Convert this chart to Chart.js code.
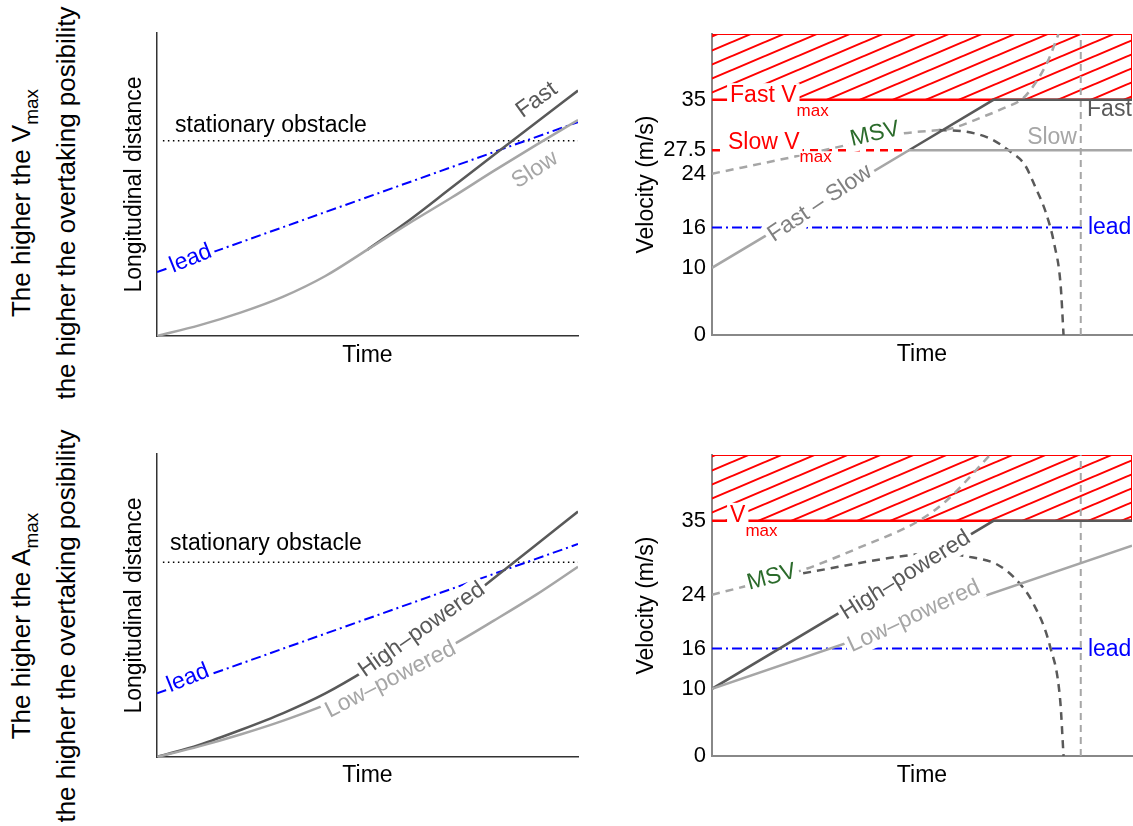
<!DOCTYPE html>
<html>
<head>
<meta charset="utf-8">
<script src="https://cdn.jsdelivr.net/npm/chart.js@4.4.1/dist/chart.umd.min.js"></script>
<style>
  html, body { margin: 0; padding: 0; background: #fff; }
  #page { position: relative; width: 1133px; height: 826px; overflow: hidden; font-family: "Liberation Sans", Arial, sans-serif; }
  canvas { position: absolute; }
  .rowLabel { position: absolute; left: 44px; transform: translate(-50%, -50%) rotate(-90deg); white-space: nowrap; text-align: center; font-size: 26px; line-height: 45px; color: #000; }
  .rowLabel sub { font-size: 19px; vertical-align: -8px; line-height: 0; }
</style>
</head>
<body>
<div id="page">
  <div class="rowLabel" style="top:203px">
    <div>The higher the V<sub>max</sub></div>
    <div>the higher the overtaking posibility</div>
  </div>
  <div class="rowLabel" style="top:626px">
    <div>The higher the A<sub>max</sub></div>
    <div>the higher the overtaking posibility</div>
  </div>
  <canvas id="distTop" width="500" height="380" style="left:100px;top:0px"></canvas>
  <canvas id="velTop" width="533" height="380" style="left:600px;top:0px"></canvas>
  <canvas id="distBottom" width="500" height="380" style="left:100px;top:420px"></canvas>
  <canvas id="velBottom" width="533" height="380" style="left:600px;top:420px"></canvas>
</div>
<script>
// ---- distance panels (time axis 0..10, distance 0..10, no numbers on axes)
const distTime = [0, 1, 2, 3, 4, 5, 6, 7, 8, 9, 10];
const slowDist = [0, 0.35, 0.78, 1.3, 1.98, 2.85, 3.73, 4.57, 5.45, 6.3, 7.13];
const fastTime = [5, 6, 7, 8, 9, 10];
const fastDist = [2.85, 3.83, 4.9, 5.97, 7.04, 8.1];
const lowDist = [0, 0.35, 0.75, 1.2, 1.72, 2.3, 2.95, 3.68, 4.5, 5.35, 6.28];
const highDist = [0, 0.4, 0.9, 1.45, 2.1, 2.9, 3.8, 4.8, 5.9, 7.0, 8.1];
const leadTime = [0, 10];
const leadDistTop = [2.11, 7.06];
const leadDistBottom = [2.1, 7.03];
const obstacleTime = [0.14, 10];
const obstacleDistTop = [6.44, 6.44];
const obstacleDistBottom = [6.43, 6.43];

// ---- velocity panels (m/s)
const velTicksTop = [0, 10, 16, 24, 27.5, 35];
const velTicksBottom = [0, 10, 16, 24, 35];
const slowVelTime = [0, 4.69, 10];
const slowVel = [10, 27.5, 27.5];
const fastVelTime = [4.69, 6.7, 10];
const fastVel = [27.5, 35, 35];
const msvTimeTop = [0, 2, 3.9, 4.55, 5.2, 5.67, 6.5, 7, 7.4, 7.7, 8, 8.25];
const msvVelTop = [24, 26.6, 29.2, 30, 30.4, 30.7, 32.6, 33.9, 35.2, 37.5, 40.8, 44.8];
const brakeTimeTop = [5.4, 6.0, 6.6, 7.1, 7.45, 7.7, 7.95, 8.15, 8.3, 8.37];
const brakeVelTop = [30.5, 30.3, 29.3, 27.3, 25.3, 22.0, 18.2, 13.5, 7.5, 0];
const highVelTime = [0, 6.7, 10];
const highVel = [10, 35, 35];
const lowVelTime = [0, 10];
const lowVel = [10, 31.3];
const msvTimeBottom = [0, 0.75, 2.17, 3.5, 4.95, 5.6, 6.62];
const msvVelBottom = [24, 25.2, 27.7, 31.0, 35.1, 38.1, 44.8];
const brakeTimeBottom = [2.17, 4.6, 5.4, 6.07, 6.79, 7.25, 7.65, 8.05, 8.29, 8.37];
const brakeVelBottom = [27.2, 29.8, 30.2, 29.7, 28.5, 26.2, 22.7, 16.3, 8.3, 0];
const leadVelTime = [0, 8.85];
const leadVel = [16, 16];
const slowVmaxTime = [0, 4.69];
const slowVmax = [27.5, 27.5];
const vmaxTime = [0, 10];
const vmaxVel = [35, 35];
const zoneTopVel = [44.8, 44.8];
const stopTime = [8.78, 8.78];
const stopVel = [0, 44.8];

const FONT = '"Liberation Sans", Arial, Helvetica, sans-serif';
const DARK = '#595959', LIGHT = '#a6a6a6', BLUE = '#0000ff', RED = '#ff0000', GREEN = '#2b6b2b';

function pts(xs, ys) {
  return xs.map((x, i) => ({x: x, y: ys[i]}));
}

function line(data, color, extra) {
  return Object.assign({data: data, borderColor: color, borderWidth: 2.5, pointRadius: 0, fill: false, tension: 0}, extra || {});
}

// red hatch for the forbidden zone above Vmax
function hatch() {
  const c = document.createElement('canvas');
  c.width = 33; c.height = 14;
  const g = c.getContext('2d');
  g.strokeStyle = RED;
  g.lineWidth = 2;
  g.beginPath();
  g.moveTo(0, 14); g.lineTo(33, 0);
  g.moveTo(-33, 14); g.lineTo(33, -14);
  g.moveTo(0, 28); g.lineTo(66, 0);
  g.stroke();
  return g.createPattern(c, 'repeat');
}

// text put on the curves, with a white box that cuts the line under it
function labelPlugin(items) {
  return {
    id: 'curveLabels',
    afterDatasetsDraw(chart) {
      const ctx = chart.ctx, xs = chart.scales.x, ys = chart.scales.y;
      items.forEach(it => {
        const size = 23, subSize = 17;
        ctx.save();
        ctx.translate(xs.getPixelForValue(it.x), ys.getPixelForValue(it.y));
        ctx.rotate((it.angle || 0) * Math.PI / 180);
        ctx.font = size + 'px ' + FONT;
        const w = ctx.measureText(it.text).width;
        let sw = 0;
        if (it.sub) {
          ctx.font = subSize + 'px ' + FONT;
          sw = ctx.measureText(it.sub).width;
        }
        const total = w + sw;
        const x0 = it.align === 'left' ? 0 : it.align === 'right' ? -total : -total / 2;
        const subBase = size * 0.88;
        if (it.bg) {
          ctx.fillStyle = '#fff';
          ctx.fillRect(x0 - 3, -size * 0.55, w + 6, size * 1.1);
          if (it.sub) ctx.fillRect(x0 + w, subBase - subSize * 0.65, sw + 4, subSize * 0.85);
        }
        ctx.fillStyle = it.color;
        ctx.textAlign = 'left';
        ctx.textBaseline = 'middle';
        ctx.font = size + 'px ' + FONT;
        ctx.fillText(it.text, x0, 0);
        if (it.sub) {
          ctx.font = subSize + 'px ' + FONT;
          ctx.textBaseline = 'alphabetic';
          ctx.fillText(it.sub, x0 + w, subBase);
        }
        ctx.restore();
      });
    }
  };
}

function buildChart(id, datasets, items, frame) {
  const yScale = {
    type: 'linear', min: 0, max: frame.yMax,
    grid: {display: false, drawTicks: false},
    border: {color: frame.axis, width: frame.axisWidth},
    ticks: {display: false},
    title: {display: true, text: frame.yTitle, color: '#000', font: {family: FONT, size: 23}, padding: {top: frame.yTitlePad, bottom: 0}},
    afterFit: s => { s.width = frame.yWidth; }
  };
  if (frame.ticks) {
    yScale.ticks = {display: true, autoSkip: false, padding: 6, color: '#000', font: {family: FONT, size: 22}, callback: v => String(v)};
    yScale.afterBuildTicks = s => { s.ticks = frame.ticks.map(v => ({value: v})); };
  }
  return new Chart(document.getElementById(id), {
    type: 'line',
    data: {datasets: datasets},
    options: {
      responsive: false,
      animation: false,
      devicePixelRatio: 1,
      layout: {padding: {left: 0, top: frame.top, right: frame.right, bottom: 0}},
      plugins: {legend: {display: false}, tooltip: {enabled: false}},
      scales: {
        x: {
          type: 'linear', min: 0, max: 10,
          grid: {display: false, drawTicks: false},
          border: {color: frame.axis, width: frame.axisWidth},
          ticks: {display: false},
          title: {display: true, text: 'Time', color: '#000', font: {family: FONT, size: 23}, padding: {top: 0, bottom: frame.xTitlePad}},
          afterFit: s => { s.height = frame.xHeight; }
        },
        y: yScale
      }
    },
    plugins: [labelPlugin(items)]
  });
}

const leadStyle = {borderWidth: 2, borderDash: [10, 4, 2, 4]};
const dashStyle = {borderDash: [8, 6]};
const curve = {cubicInterpolationMode: 'monotone'};
const hatchFill = hatch();

// top left: Vmax case, distance
buildChart('distTop', [
  line(pts(distTime, slowDist), LIGHT, curve),
  line(pts(fastTime, fastDist), DARK, curve),
  line(pts(leadTime, leadDistTop), BLUE, leadStyle),
  line(pts(obstacleTime, obstacleDistTop), '#000', {borderWidth: 1.5, borderDash: [1.5, 3.5]})
], [
  {x: 0.43, y: 6.93, text: 'stationary obstacle', color: '#000', align: 'left'},
  {x: 9.02, y: 7.79, text: 'Fast', color: DARK, angle: -36},
  {x: 8.98, y: 5.48, text: 'Slow', color: LIGHT, angle: -33},
  {x: 0.8, y: 2.55, text: 'lead', color: BLUE, angle: -22, bg: true}
], {top: 33, right: 22, yMax: 10, yWidth: 57, xHeight: 44, yTitle: 'Longitudinal distance', yTitlePad: 21.2, xTitlePad: 10.7, axis: '#333', axisWidth: 1.5});

// top right: Vmax case, velocity
buildChart('velTop', [
  line(pts(slowVelTime, slowVel), LIGHT),
  line(pts(fastVelTime, fastVel), DARK),
  line(pts(msvTimeTop, msvVelTop), LIGHT, Object.assign({}, dashStyle, curve)),
  line(pts(brakeTimeTop, brakeVelTop), DARK, Object.assign({}, dashStyle, curve)),
  line(pts(stopTime, stopVel), LIGHT, {borderWidth: 2, borderDash: [7, 5]}),
  line(pts(leadVelTime, leadVel), BLUE, leadStyle),
  line(pts(slowVmaxTime, slowVmax), RED, dashStyle),
  line(pts(vmaxTime, vmaxVel), RED),
  line(pts([10, 10], [35, 44.8]), RED, {borderWidth: 2}),
  line(pts(vmaxTime, zoneTopVel), RED, {borderWidth: 2, fill: {value: 35}, backgroundColor: hatchFill})
], [
  {x: 0.43, y: 35.6, text: 'Fast V', sub: 'max', color: RED, align: 'left', bg: true},
  {x: 0.38, y: 28.7, text: 'Slow V', sub: 'max', color: RED, align: 'left', bg: true},
  {x: 3.88, y: 29.9, text: 'MSV', color: GREEN, angle: -13, bg: true},
  {x: 2.57, y: 19.6, text: 'Fast – Slow', color: '#808080', angle: -34, bg: true},
  {x: 8.93, y: 33.5, text: 'Fast', color: DARK, align: 'left'},
  {x: 8.69, y: 29.3, text: 'Slow', color: LIGHT, align: 'right'},
  {x: 8.95, y: 16, text: 'lead', color: BLUE, align: 'left'}
], {top: 34, right: 1, yMax: 44.8, yWidth: 112, xHeight: 45, yTitle: 'Velocity (m/s)', yTitlePad: 33.2, xTitlePad: 11.2, axis: '#888', axisWidth: 2, ticks: velTicksTop});

// bottom left: Amax case, distance
buildChart('distBottom', [
  line(pts(distTime, lowDist), LIGHT, curve),
  line(pts(distTime, highDist), DARK, curve),
  line(pts(leadTime, leadDistBottom), BLUE, leadStyle),
  line(pts(obstacleTime, obstacleDistBottom), '#000', {borderWidth: 1.5, borderDash: [1.5, 3.5]})
], [
  {x: 0.31, y: 7.05, text: 'stationary obstacle', color: '#000', align: 'left'},
  {x: 0.74, y: 2.6, text: 'lead', color: BLUE, angle: -22, bg: true},
  {x: 6.29, y: 4.2, text: 'High–powered', color: DARK, angle: -35, bg: true},
  {x: 5.55, y: 2.55, text: 'Low–powered', color: LIGHT, angle: -27, bg: true}
], {top: 34, right: 22, yMax: 10, yWidth: 57, xHeight: 43, yTitle: 'Longitudinal distance', yTitlePad: 21.2, xTitlePad: 10.2, axis: '#333', axisWidth: 1.5});

// bottom right: Amax case, velocity
buildChart('velBottom', [
  line(pts(lowVelTime, lowVel), LIGHT),
  line(pts(highVelTime, highVel), DARK),
  line(pts(msvTimeBottom, msvVelBottom), LIGHT, Object.assign({}, dashStyle, curve)),
  line(pts(brakeTimeBottom, brakeVelBottom), DARK, Object.assign({}, dashStyle, curve)),
  line(pts(stopTime, stopVel), LIGHT, {borderWidth: 2, borderDash: [7, 5]}),
  line(pts(leadVelTime, leadVel), BLUE, leadStyle),
  line(pts(vmaxTime, vmaxVel), RED),
  line(pts([10, 10], [35, 44.8]), RED, {borderWidth: 2}),
  line(pts(vmaxTime, zoneTopVel), RED, {borderWidth: 2, fill: {value: 35}, backgroundColor: hatchFill})
], [
  {x: 0.43, y: 35.8, text: 'V', sub: 'max', color: RED, align: 'left', bg: true},
  {x: 1.42, y: 26.6, text: 'MSV', color: GREEN, angle: -15, bg: true},
  {x: 4.61, y: 26.9, text: 'High–powered', color: DARK, angle: -32, bg: true},
  {x: 4.81, y: 20.8, text: 'Low–powered', color: LIGHT, angle: -25, bg: true},
  {x: 8.95, y: 15.9, text: 'lead', color: BLUE, align: 'left'}
], {top: 35, right: 1, yMax: 44.8, yWidth: 112, xHeight: 44, yTitle: 'Velocity (m/s)', yTitlePad: 33.2, xTitlePad: 10.2, axis: '#888', axisWidth: 2, ticks: velTicksBottom});
</script>
</body>
</html>
